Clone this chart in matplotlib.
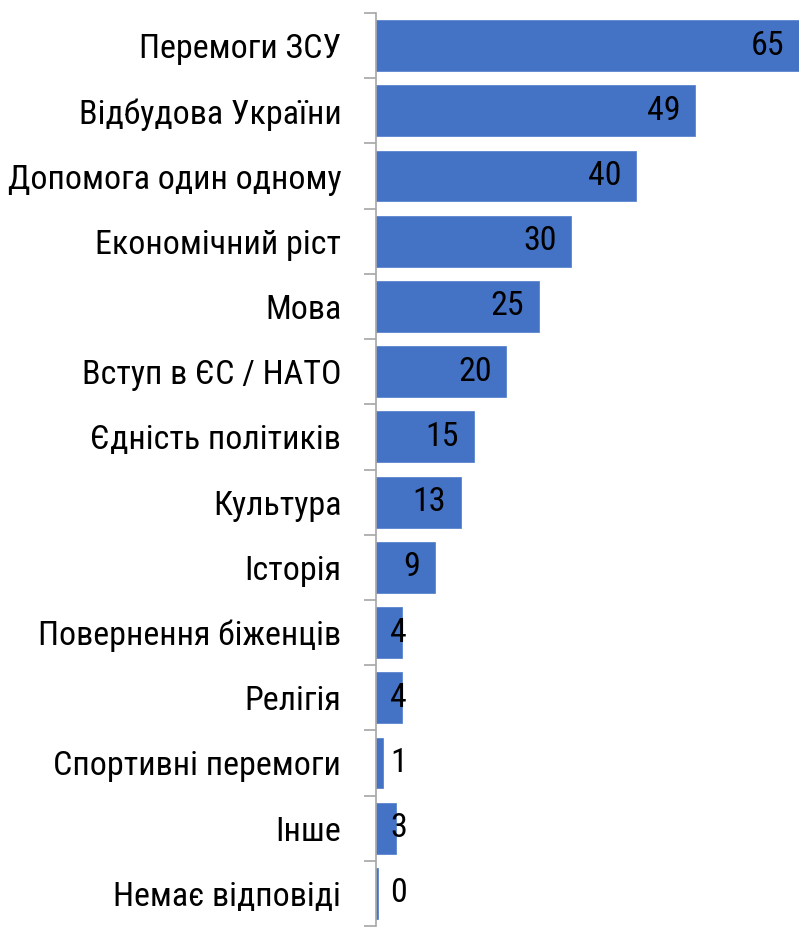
import matplotlib.pyplot as plt
from matplotlib import font_manager
from matplotlib.ticker import FixedLocator

categories = ['Перемоги ЗСУ', 'Відбудова України', 'Допомога один одному',
              'Економічний ріст', 'Мова', 'Вступ в ЄС / НАТО', 'Єдність політиків',
              'Культура', 'Історія', 'Повернення біженців', 'Релігія',
              'Спортивні перемоги', 'Інше', 'Немає відповіді']
values = [65, 49, 40, 30, 25, 20, 15, 13, 9, 4, 4, 1, 3, 0.3]
labels = ['65', '49', '40', '30', '25', '20', '15', '13', '9', '4', '4', '1', '3', '0']

# prefer a narrow face (the original looks like Arial Narrow)
installed = {f.name for f in font_manager.fontManager.ttflist}
fsize = 24.5
family = 'Liberation Sans'
for name in ['Liberation Sans Narrow', 'Roboto Condensed', 'DejaVu Sans Condensed']:
    if name in installed:
        family = name
        break
if family == 'Liberation Sans':
    fsize = 21.5
plt.rcParams['font.family'] = [family, 'DejaVu Sans']

fig = plt.figure(figsize=(7.99, 9.27), dpi=100)
ax = fig.add_axes([376 / 799, 1 / 927, 1 - 376 / 799, 1 - 14 / 927])

y = list(range(len(categories)))
ax.barh(y, values, height=0.78, color='#4472C4', edgecolor='#5B85CF', linewidth=0.6)

ax.set_xlim(0, 65)
ax.set_ylim(len(categories) - 0.5, -0.5)

# value labels: inside end, but never closer than a fixed distance from the base
for i, (v, lab) in enumerate(zip(values, labels)):
    xt = max(v - 2.2, 4.75)
    ax.text(xt, i, lab, ha='right', va='center', fontsize=fsize, color='black')

ax.set_yticks(y)
ax.set_yticklabels(categories, fontsize=fsize)
ax.tick_params(axis='y', which='major', length=0, pad=25)
ax.yaxis.set_minor_locator(FixedLocator([k - 0.5 for k in range(len(categories) + 1)]))
ax.tick_params(axis='y', which='minor', length=9, width=1.2, color='#A6A6A6')
ax.set_xticks([])

for s in ['top', 'right', 'bottom']:
    ax.spines[s].set_visible(False)
ax.spines['left'].set_color('#A6A6A6')
ax.spines['left'].set_linewidth(1.2)

fig.savefig('out.png', dpi=100)
